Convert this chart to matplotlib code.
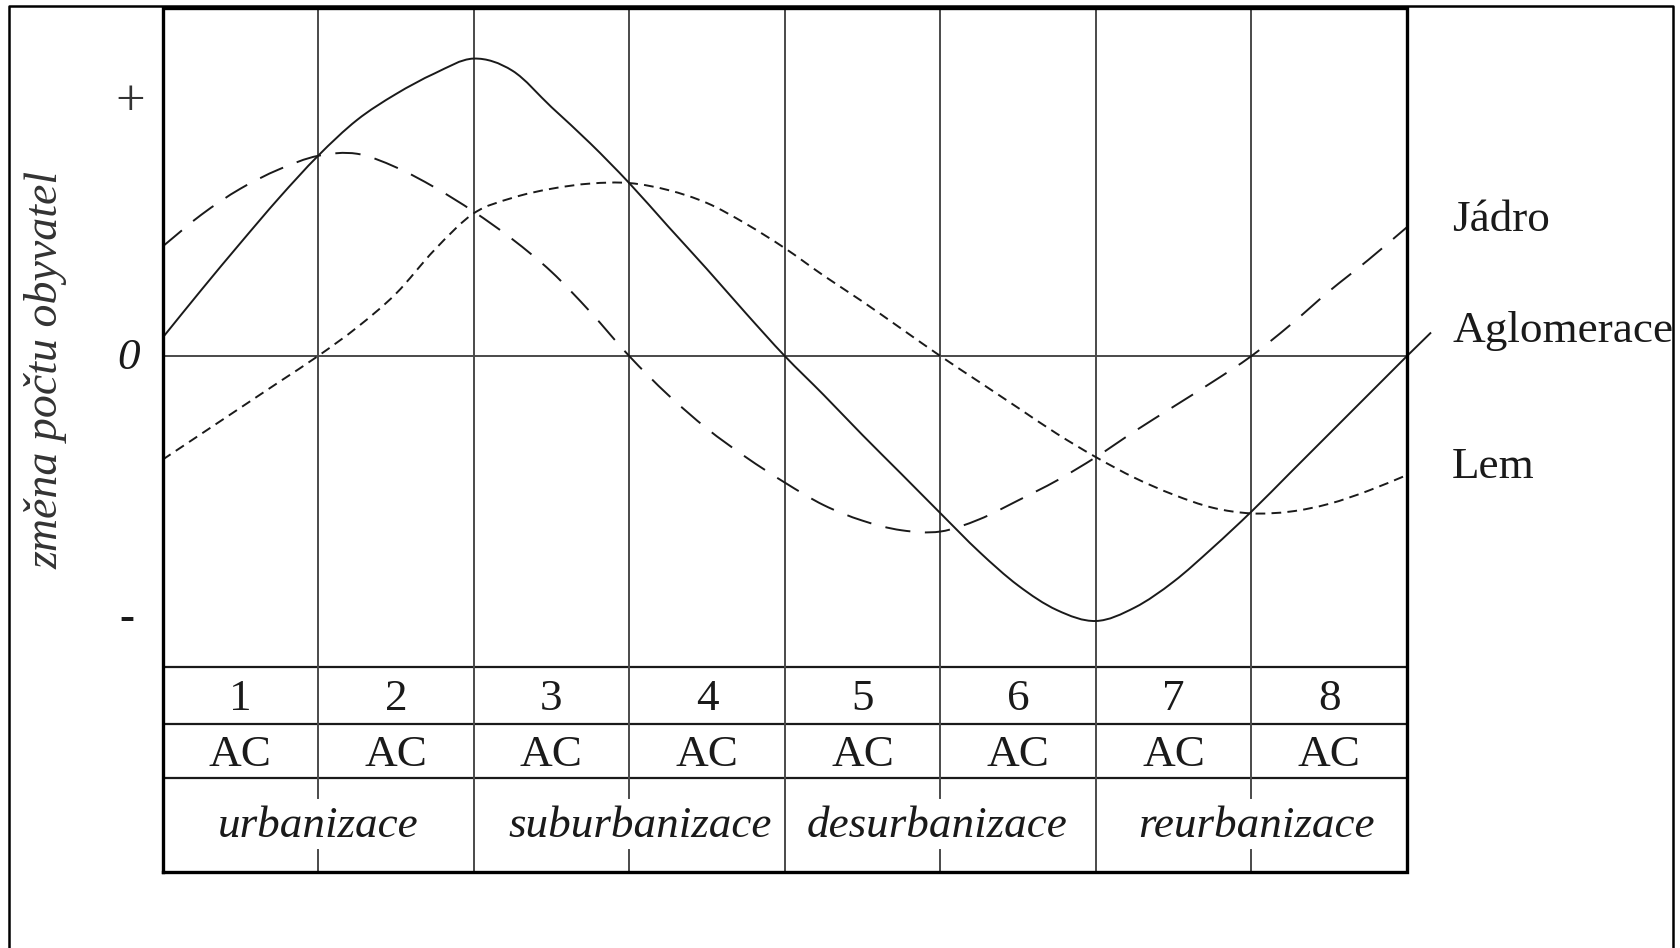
import numpy as np
import matplotlib
matplotlib.use("Agg")
import matplotlib.pyplot as plt
from matplotlib.lines import Line2D
from matplotlib.path import Path
from matplotlib.patches import PathPatch

# ---------------- data ----------------
x_pos = [0, 0.25, 0.5, 0.75, 1.0, 1.25, 1.5, 1.75, 2.0, 2.25, 2.5, 2.75, 3.0,
         3.25, 3.5, 3.75, 4.0, 4.25, 4.5, 4.75, 5.0, 5.25, 5.5, 5.75, 6.0,
         6.25, 6.5, 6.75, 7.0, 7.25, 7.5, 7.75, 8.0]

aglomerace = [0.07, 0.255, 0.435, 0.61, 0.772, 0.91, 1.01, 1.09, 1.147, 1.10,
              0.96, 0.82, 0.667, 0.50, 0.335, 0.165, 0.0, -0.15, -0.305,
              -0.455, -0.606, -0.755, -0.885, -0.98, -1.022, -0.97, -0.87,
              -0.74, -0.60, -0.45, -0.30, -0.15, 0.0]
aglomerace_tail_x = [8.0, 8.15]
aglomerace_tail_y = [0.0, 0.088]

jadro = [0.422, 0.545, 0.645, 0.72, 0.772, 0.78, 0.728, 0.65, 0.557, 0.45,
         0.325, 0.17, 0.0, -0.15, -0.28, -0.39, -0.488, -0.575, -0.635,
         -0.672, -0.677, -0.63, -0.557, -0.48, -0.39, -0.29, -0.195, -0.10,
         0.0, 0.12, 0.25, 0.37, 0.497]

lem = [-0.40, -0.30, -0.20, -0.10, 0.0, 0.11, 0.24, 0.41, 0.55, 0.61,
       0.645, 0.665, 0.667, 0.64, 0.59, 0.51, 0.416, 0.31, 0.21, 0.105,
       0.0, -0.10, -0.20, -0.30, -0.39, -0.47, -0.535, -0.585, -0.607,
       -0.60, -0.57, -0.52, -0.459]

stage_numbers = ["1", "2", "3", "4", "5", "6", "7", "8"]
stage_code = ["AC"] * 8
phases = ["urbanizace", "suburbanizace", "desurbanizace", "reurbanizace"]
series_labels = ["Jádro", "Aglomerace", "Lem"]
y_tick_labels = ["+", "0", "-"]
y_label = "změna počtu obyvatel"

# ---------------- layout ----------------
W, H = 1680, 948
fig = plt.figure(figsize=(W / 100, H / 100), dpi=100)
fig.patch.set_facecolor("white")

px_left, px_right = 162.5, 1407
px_top, px_bottom = 8, 872
zero_px = 356
unit_px = 259.3

ax = fig.add_axes([px_left / W, 1 - px_bottom / H,
                   (px_right - px_left) / W, (px_bottom - px_top) / H])
ax.set_xlim(0, 8)
ymax = (zero_px - px_top) / unit_px
ymin = -(px_bottom - zero_px) / unit_px
ax.set_ylim(ymin, ymax)
ax.axis("off")


def v(px):
    return (zero_px - px) / unit_px


table_top = v(666.5)
row1 = v(723.5)
row2 = v(778)
gap_top = v(798)
gap_bot = v(850)

grid_c = "#4a4a4a"
grid_lw = 1.4
ink = "#1a1a1a"

# horizontal lines
ax.plot([0, 8], [0, 0], color=grid_c, lw=grid_lw, zorder=1)
for yy in (table_top, row1, row2):
    ax.plot([0, 8], [yy, yy], color=ink, lw=1.6, zorder=1)

# vertical grid lines
for i in range(1, 8):
    if i % 2 == 0:
        ax.plot([i, i], [ymin, ymax], color=grid_c, lw=grid_lw, zorder=1)
    else:
        ax.plot([i, i], [gap_top, ymax], color=grid_c, lw=grid_lw, zorder=1)
        ax.plot([i, i], [ymin, gap_bot], color=grid_c, lw=grid_lw, zorder=1)

# frame
ax.add_line(Line2D([0, 8, 8, 0, 0], [ymin, ymin, ymax, ymax, ymin],
                   color="black", lw=2.4, zorder=3, solid_joinstyle="miter",
                   clip_on=False))


def smooth_path(xs, ys):
    """Cubic Bezier path through the read points (Catmull-Rom handles)."""
    P = np.column_stack([xs, ys]).astype(float)
    n = len(P)
    verts = [P[0]]
    codes = [Path.MOVETO]
    for i in range(n - 1):
        p0 = P[i - 1] if i > 0 else 2 * P[i] - P[i + 1]
        p1 = P[i]
        p2 = P[i + 1]
        p3 = P[i + 2] if i + 2 < n else 2 * P[i + 1] - P[i]
        c1 = p1 + (p2 - p0) / 6.0
        c2 = p2 - (p3 - p1) / 6.0
        verts += [c1, c2, p2]
        codes += [Path.CURVE4] * 3
    return Path(verts, codes)


lw = 1.4
ax.add_patch(PathPatch(smooth_path(x_pos, aglomerace), facecolor="none",
                       edgecolor=ink, lw=lw, zorder=2))
ax.plot(aglomerace_tail_x, aglomerace_tail_y, color=ink, lw=lw, zorder=2,
        clip_on=False)
ax.add_patch(PathPatch(smooth_path(x_pos, jadro), facecolor="none",
                       edgecolor=ink, lw=lw, zorder=2,
                       linestyle=(0, (13, 7.5))))
ax.add_patch(PathPatch(smooth_path(x_pos, lem), facecolor="none",
                       edgecolor=ink, lw=lw, zorder=2,
                       linestyle=(0, (5, 3.2))))

serif = ["Liberation Serif", "DejaVu Serif"]
fs = 32.5

# table text
row1_c = (table_top + row1) / 2 - 4 / unit_px
row2_c = (row1 + row2) / 2 - 4 / unit_px
row3_c = v(826)
for i, (n, c) in enumerate(zip(stage_numbers, stage_code)):
    ax.text(i + 0.5, row1_c, n, ha="center", va="center", fontsize=fs,
            family=serif, color=ink)
    ax.text(i + 0.5, row2_c, c, ha="center", va="center", fontsize=fs,
            family=serif, color=ink)
phase_x = [1.0, 3.07, 4.98, 7.03]
for px_, p in zip(phase_x, phases):
    ax.text(px_, row3_c, p, ha="center", va="center", fontsize=fs,
            family=serif, style="italic", color=ink)

# right-side series labels
label_y = [v(220), v(331), v(467)]
for lab, yy in zip(series_labels, label_y):
    ax.text(8.29, yy, lab, ha="left", va="center", fontsize=fs,
            family=serif, color=ink, clip_on=False)

# y "ticks"
tick_x = -0.21
ax.text(tick_x, v(102), y_tick_labels[0], ha="center", va="center",
        fontsize=38, family=serif, color="#333333", fontweight="light")
ax.text(tick_x - 0.01, v(358), y_tick_labels[1], ha="center", va="center",
        fontsize=fs, family=serif, style="italic", color=ink)
ax.text(tick_x - 0.02, v(619), y_tick_labels[2], ha="center", va="center",
        fontsize=fs, family=serif, color=ink, fontweight="bold")

# y label
fig.text(46 / W, 1 - 370 / H, y_label, rotation=90, ha="center", va="center",
         fontsize=33, family=serif, style="italic", color="#333333")

# outer frame (open at bottom)
fig.add_artist(Line2D([9 / W, 9 / W, 1673 / W, 1673 / W],
                      [0, 1 - 6 / H, 1 - 6 / H, 0],
                      transform=fig.transFigure, color="black", lw=1.8))

fig.savefig("out.png", dpi=100, facecolor="white")
